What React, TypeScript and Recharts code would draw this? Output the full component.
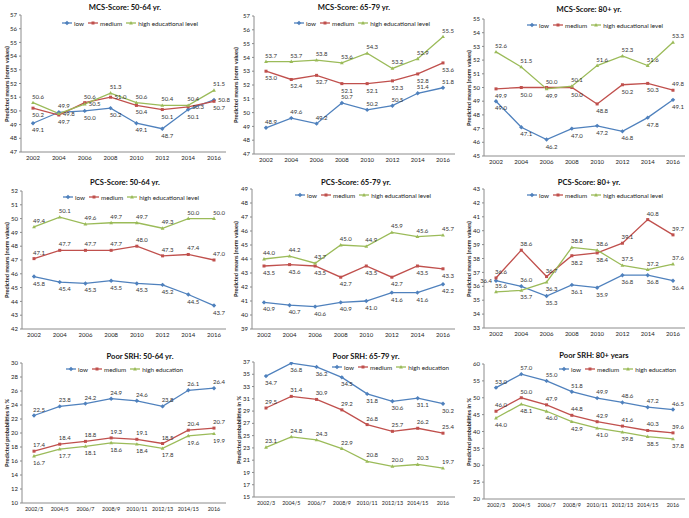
import React from 'react';
import { LineChart, Line, XAxis, YAxis, LabelList } from 'recharts';

const years = ['2002', '2004', '2006', '2008', '2010', '2012', '2014', '2016'];
const periods = ['2002/3', '2004/5', '2006/7', '2008/9', '2010/11', '2012/13', '2014/15', '2016'];

const mcs5064Low = [49.1, 49.9, 50.0, 50.2, 49.1, 48.7, 50.1, 50.8];
const mcs5064Med = [50.2, 49.7, 50.6, 51.0, 50.4, 50.1, 50.3, 50.7];
const mcs5064High = [50.6, 49.8, 50.5, 51.3, 50.6, 50.4, 50.4, 51.5];

const mcs6579Low = [48.9, 49.6, 49.2, 50.7, 50.2, 50.5, 51.4, 51.8];
const mcs6579Med = [53.0, 52.4, 52.7, 52.1, 52.1, 52.3, 52.8, 53.6];
const mcs6579High = [53.7, 53.7, 53.8, 53.6, 54.3, 53.2, 53.9, 55.5];

const mcs80Low = [49.0, 47.1, 46.2, 47.0, 47.2, 46.8, 47.8, 49.1];
const mcs80Med = [49.9, 50.0, 50.0, 50.0, 48.8, 50.2, 50.3, 49.8];
const mcs80High = [52.6, 51.5, 49.9, 50.1, 51.6, 52.3, 51.6, 53.3];

const pcs5064Low = [45.8, 45.4, 45.3, 45.5, 45.3, 45.2, 44.5, 43.7];
const pcs5064Med = [47.1, 47.7, 47.7, 47.7, 48.0, 47.3, 47.4, 47.0];
const pcs5064High = [49.4, 50.1, 49.6, 49.7, 49.7, 49.3, 50.0, 50.0];

const pcs6579Low = [40.9, 40.7, 40.6, 40.9, 41.0, 41.6, 41.6, 42.2];
const pcs6579Med = [43.5, 43.6, 43.5, 42.7, 43.5, 42.7, 43.5, 43.3];
const pcs6579High = [44.0, 44.2, 43.7, 45.0, 44.9, 45.9, 45.6, 45.7];

const pcs80Low = [36.4, 36.0, 35.3, 36.1, 35.9, 36.8, 36.8, 36.4];
const pcs80Med = [36.6, 38.6, 36.7, 38.2, 38.4, 39.1, 40.8, 39.7];
const pcs80High = [35.6, 35.7, 36.3, 38.8, 38.6, 37.5, 37.2, 37.6];

const srh5064Low = [22.5, 23.8, 24.2, 24.9, 24.6, 23.8, 26.1, 26.4];
const srh5064Med = [17.4, 18.4, 18.8, 19.3, 19.1, 18.5, 20.4, 20.7];
const srh5064High = [16.7, 17.7, 18.1, 18.6, 18.4, 17.8, 19.6, 19.9];

const srh6579Low = [34.7, 36.8, 36.2, 34.5, 31.8, 30.6, 31.1, 30.2];
const srh6579Med = [29.5, 31.4, 30.9, 29.2, 26.8, 25.7, 26.2, 25.4];
const srh6579High = [23.1, 24.8, 24.3, 22.9, 20.8, 20.0, 20.3, 19.7];

const srh80Low = [53.0, 57.0, 55.0, 51.8, 49.9, 48.6, 47.2, 46.5];
const srh80Med = [46.0, 50.0, 47.9, 44.8, 42.9, 41.6, 40.3, 39.6];
const srh80High = [44.0, 48.1, 46.0, 42.9, 41.0, 39.8, 38.5, 37.8];

const ticks47to57 = [47, 48, 49, 50, 51, 52, 53, 54, 55, 56, 57];
const ticks45to55 = [45, 46, 47, 48, 49, 50, 51, 52, 53, 54, 55];
const ticks42to52 = [42, 43, 44, 45, 46, 47, 48, 49, 50, 51, 52];
const ticks39to49 = [39, 40, 41, 42, 43, 44, 45, 46, 47, 48, 49];
const ticks33to43 = [33, 34, 35, 36, 37, 38, 39, 40, 41, 42, 43];
const ticks10to30 = [10, 12, 14, 16, 18, 20, 22, 24, 26, 28, 30];
const ticks15to37 = [15, 17, 19, 21, 23, 25, 27, 29, 31, 33, 35, 37];
const ticks20to60 = [20, 25, 30, 35, 40, 45, 50, 55, 60];

const BLUE = '#4F81BD';
const RED = '#C0504D';
const GREEN = '#9BBB59';
const FONT = 'Lato, "Liberation Sans", sans-serif';
const MEANS = 'Predicted means (norm values)';
const PROBS = 'Predicted probabilities in %';

type Pos = 'a' | 'b';
interface Panel {
  title: string;
  cats: string[];
  low: number[];
  med: number[];
  high: number[];
  ticks: number[];
  yLabel: string;
  highName: string;
  left: number;
  top: number;
  h: number;
  axisX: number;
  plotTop: number;
  plotBottom: number;
  titleX: number;
  titleY: number;
  legX: number;
  legY: number;
  yLabX: number;
  pos: [Pos, Pos, Pos];
}

const panels: Panel[] = [
  { title: 'MCS-Score: 50-64 yr.', cats: years, low: mcs5064Low, med: mcs5064Med, high: mcs5064High, ticks: ticks47to57, yLabel: MEANS, highName: 'high educational level', left: 0, top: 0, h: 172, axisX: 21, plotTop: 15, plotBottom: 152, titleX: 125, titleY: 7, legX: 62, legY: 23, yLabX: 7, pos: ['b', 'b', 'a'] },
  { title: 'MCS-Score: 65-79 yr.', cats: years, low: mcs6579Low, med: mcs6579Med, high: mcs6579High, ticks: ticks47to57, yLabel: MEANS, highName: 'high educational level', left: 229, top: 0, h: 172, axisX: 25, plotTop: 16, plotBottom: 154, titleX: 125, titleY: 7, legX: 65, legY: 23, yLabX: 7, pos: ['a', 'b', 'a'] },
  { title: 'MCS-Score: 80+ yr.', cats: years, low: mcs80Low, med: mcs80Med, high: mcs80High, ticks: ticks45to55, yLabel: MEANS, highName: 'high educational level', left: 459, top: 0, h: 172, axisX: 25, plotTop: 19, plotBottom: 156, titleX: 130, titleY: 9, legX: 68, legY: 25, yLabX: 10, pos: ['b', 'b', 'a'] },
  { title: 'PCS-Score: 50-64 yr.', cats: years, low: pcs5064Low, med: pcs5064Med, high: pcs5064High, ticks: ticks42to52, yLabel: MEANS, highName: 'high educational level', left: 0, top: 172, h: 172, axisX: 22, plotTop: 19, plotBottom: 157, titleX: 125, titleY: 10, legX: 63, legY: 25, yLabX: 7, pos: ['b', 'a', 'a'] },
  { title: 'PCS-Score: 65-79 yr.', cats: years, low: pcs6579Low, med: pcs6579Med, high: pcs6579High, ticks: ticks39to49, yLabel: MEANS, highName: 'high educational level', left: 229, top: 172, h: 172, axisX: 23, plotTop: 17, plotBottom: 157, titleX: 127, titleY: 10, legX: 66, legY: 23, yLabX: 7, pos: ['b', 'b', 'a'] },
  { title: 'PCS-Score: 80+ yr.', cats: years, low: pcs80Low, med: pcs80Med, high: pcs80High, ticks: ticks33to43, yLabel: MEANS, highName: 'high educational level', left: 459, top: 172, h: 172, axisX: 25, plotTop: 17, plotBottom: 156, titleX: 130, titleY: 10, legX: 68, legY: 23, yLabX: 10, pos: ['b', 'a', 'a'] },
  { title: 'Poor SRH: 50-64 yr.', cats: periods, low: srh5064Low, med: srh5064Med, high: srh5064High, ticks: ticks10to30, yLabel: PROBS, highName: 'high education', left: 0, top: 344, h: 174, axisX: 22, plotTop: 19, plotBottom: 159, titleX: 140, titleY: 12, legX: 66, legY: 25, yLabX: 7, pos: ['a', 'a', 'b'] },
  { title: 'Poor SRH: 65-79 yr.', cats: periods, low: srh6579Low, med: srh6579Med, high: srh6579High, ticks: ticks15to37, yLabel: PROBS, highName: 'high education', left: 229, top: 344, h: 174, axisX: 25, plotTop: 18, plotBottom: 153, titleX: 137, titleY: 12, legX: 103, legY: 23, yLabX: 10, pos: ['b', 'a', 'a'] },
  { title: 'Poor SRH: 80+ years', cats: periods, low: srh80Low, med: srh80Med, high: srh80High, ticks: ticks20to60, yLabel: PROBS, highName: 'high education', left: 459, top: 344, h: 174, axisX: 25, plotTop: 20, plotBottom: 155, titleX: 135, titleY: 11, legX: 100, legY: 25, yLabX: 10, pos: ['a', 'a', 'b'] },
];

const W = 230;
const PLOT_RIGHT = 226;
const LABEL_FS = 6;

function Marker({ kind, cx, cy, color }: { kind: string; cx: number; cy: number; color: string }) {
  if (kind === 'low') {
    const s = 2.2;
    return <polygon points={`${cx},${cy - s} ${cx + s},${cy} ${cx},${cy + s} ${cx - s},${cy}`} fill={color} />;
  }
  if (kind === 'medium') {
    return <rect x={cx - 1.5} y={cy - 1.5} width={3} height={3} fill={color} />;
  }
  return <polygon points={`${cx},${cy - 2} ${cx + 1.9},${cy + 1.4} ${cx - 1.9},${cy + 1.4}`} fill={color} />;
}

const makeDot = (kind: string, color: string) => (p: any) => (
  <Marker key={`${kind}-${p.index}`} kind={kind} cx={p.cx} cy={p.cy} color={color} />
);

// Label placement: preferred side per series, flipped if another series' point is too close on that side.
const makeLabel = (panel: Panel, seriesIdx: number) => (p: any) => {
  if (p.value == null) return null;
  const i = p.index;
  const min = panel.ticks[0];
  const max = panel.ticks[panel.ticks.length - 1];
  const pxPerUnit = (panel.plotBottom - panel.plotTop) / (max - min);
  const all = [panel.low, panel.med, panel.high];
  const own = all[seriesIdx][i];
  const others = all.filter((_, k) => k !== seriesIdx).map((s) => (own - s[i]) * pxPerUnit);
  const blockedAbove = others.some((d) => d < 0 && d > -10) || others.some((d) => d === 0);
  const blockedBelow = others.some((d) => d > 0 && d < 12) || others.some((d) => d === 0);
  let side: 'a' | 'b' | 'r' | 'l' = panel.pos[seriesIdx];
  const aside = i === 0 ? 'l' : 'r';
  if (side === 'a' && blockedAbove) side = blockedBelow ? aside : 'b';
  else if (side === 'b' && blockedBelow) side = blockedAbove ? aside : 'a';
  const x = side === 'r' ? p.x + 4 : side === 'l' ? p.x - 4 : p.x + 5;
  const y = side === 'a' ? p.y - 4 : side === 'b' ? p.y + 9 : p.y + 2;
  return (
    <text
      key={`l-${seriesIdx}-${i}`}
      x={x}
      y={y}
      fontSize={LABEL_FS}
      fontFamily={FONT}
      textAnchor={side === 'r' ? 'start' : side === 'l' ? 'end' : 'middle'}
      fill="#333"
    >
      {Number(p.value).toFixed(1)}
    </text>
  );
};

function LegendBox({ p }: { p: Panel }) {
  const items = [
    { kind: 'low', name: 'low', color: BLUE },
    { kind: 'medium', name: 'medium', color: RED },
    { kind: 'high', name: p.highName, color: GREEN },
  ];
  return (
    <div
      style={{
        position: 'absolute',
        left: p.legX,
        top: p.legY - 5,
        height: 10,
        display: 'flex',
        alignItems: 'center',
        fontFamily: FONT,
        fontSize: 6.3,
        color: '#222',
        whiteSpace: 'nowrap',
      }}
    >
      {items.map((it) => (
        <div key={it.kind} style={{ display: 'flex', alignItems: 'center', marginRight: 4 }}>
          <svg width={10} height={6} style={{ marginRight: 2 }}>
            <line x1={0} y1={3} x2={10} y2={3} stroke={it.color} strokeWidth={1.3} />
            <Marker kind={it.kind} cx={5} cy={3} color={it.color} />
          </svg>
          <span>{it.name}</span>
        </div>
      ))}
    </div>
  );
}

function PanelChart({ p }: { p: Panel }) {
  const data = p.cats.map((c, i) => ({ cat: c, low: p.low[i], medium: p.med[i], high: p.high[i] }));
  const min = p.ticks[0];
  const max = p.ticks[p.ticks.length - 1];
  const midY = (p.plotTop + p.plotBottom) / 2;
  const xFs = p.cats[0].length > 4 ? 5.4 : 6;
  return (
    <div style={{ position: 'absolute', left: p.left, top: p.top, width: W, height: p.h }}>
      <LineChart
        width={W}
        height={p.h}
        data={data}
        margin={{ top: p.plotTop, right: W - PLOT_RIGHT, left: 0, bottom: 0 }}
      >
        <XAxis
          dataKey="cat"
          height={p.h - p.plotBottom}
          padding={{ left: 12, right: 12 }}
          interval={0}
          tick={{ fontSize: xFs, fill: '#222', fontFamily: FONT }}
          tickLine={false}
          tickSize={3}
          tickMargin={1}
          axisLine={{ stroke: '#8c8c8c' }}
        />
        <YAxis
          width={p.axisX}
          domain={[min, max]}
          ticks={p.ticks}
          interval={0}
          type="number"
          allowDataOverflow
          tick={{ fontSize: 6, fill: '#222', fontFamily: FONT }}
          tickSize={2}
          tickMargin={2}
          tickLine={{ stroke: '#8c8c8c' }}
          axisLine={{ stroke: '#8c8c8c' }}
        />
        <Line type="linear" dataKey="low" stroke={BLUE} strokeWidth={1.3} dot={makeDot('low', BLUE)} isAnimationActive={false}>
          <LabelList dataKey="low" content={makeLabel(p, 0)} />
        </Line>
        <Line type="linear" dataKey="medium" stroke={RED} strokeWidth={1.3} dot={makeDot('medium', RED)} isAnimationActive={false}>
          <LabelList dataKey="medium" content={makeLabel(p, 1)} />
        </Line>
        <Line type="linear" dataKey="high" stroke={GREEN} strokeWidth={1.3} dot={makeDot('high', GREEN)} isAnimationActive={false}>
          <LabelList dataKey="high" content={makeLabel(p, 2)} />
        </Line>
      </LineChart>
      <div
        style={{
          position: 'absolute',
          left: p.titleX - 80,
          top: p.titleY - 5,
          width: 160,
          height: 10,
          textAlign: 'center',
          fontFamily: FONT,
          fontWeight: 700,
          fontSize: 7.6,
          lineHeight: '10px',
          color: '#111',
          whiteSpace: 'nowrap',
        }}
      >
        {p.title}
      </div>
      <LegendBox p={p} />
      <div
        style={{
          position: 'absolute',
          left: p.yLabX - 60,
          top: midY - 5,
          width: 120,
          height: 10,
          lineHeight: '10px',
          textAlign: 'center',
          transform: 'rotate(-90deg)',
          fontFamily: FONT,
          fontWeight: 700,
          fontSize: 5.6,
          color: '#222',
          whiteSpace: 'nowrap',
        }}
      >
        {p.yLabel}
      </div>
    </div>
  );
}

export default function App() {
  return (
    <div style={{ position: 'absolute', left: 0, top: 0, width: 689, height: 518, background: '#fff', overflow: 'hidden' }}>
      {panels.map((p) => (
        <PanelChart key={p.title} p={p} />
      ))}
    </div>
  );
}
